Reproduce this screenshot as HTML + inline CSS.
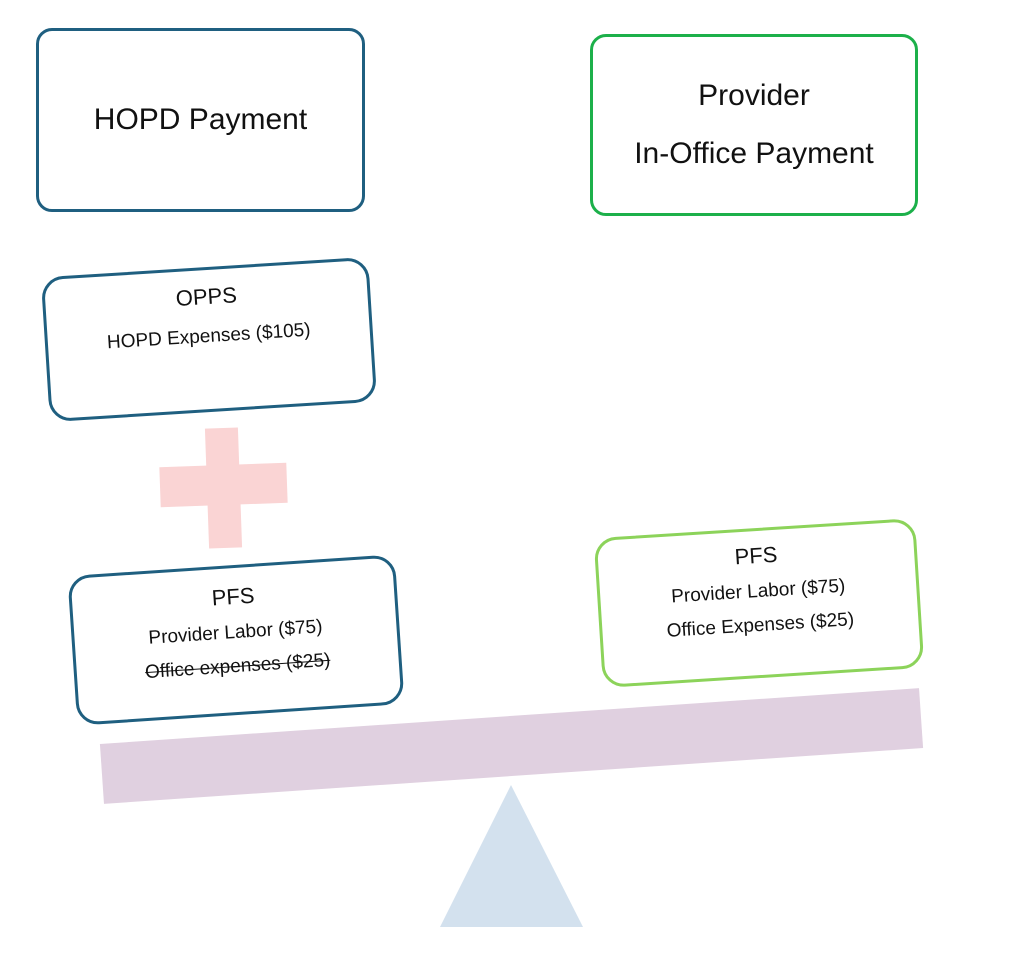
<!DOCTYPE html>
<html><head><style>
html,body{margin:0;padding:0;background:#fff;}
body{width:1024px;height:958px;position:relative;overflow:hidden;font-family:"Liberation Sans",sans-serif;color:#111;}
.b{position:absolute;box-sizing:border-box;background:#fff;text-align:center;}
</style></head><body>
<div class="b" style="left:36px;top:28px;width:329px;height:184px;border:3px solid #1f5f80;border-radius:16px;font-size:30px;line-height:178px;">HOPD Payment</div>
<div class="b" style="left:590px;top:34px;width:328px;height:182px;border:3px solid #1cb04a;border-radius:16px;font-size:30px;line-height:58px;padding-top:30px;">Provider<br>In-Office Payment</div>

<div class="b" style="left:45px;top:267px;width:328px;height:145px;border:3px solid #1f5f80;border-radius:22px;transform:rotate(-3.6deg);font-size:22px;padding-top:8px;line-height:38px;">OPPS<br><span style="font-size:19px">HOPD Expenses ($105)</span></div>

<div style="position:absolute;left:207px;top:428px;width:33px;height:120px;background:#fad4d4;transform:rotate(-2deg)"></div>
<div style="position:absolute;left:160px;top:465px;width:127px;height:40px;background:#fad4d4;transform:rotate(-2deg)"></div>

<div class="b" style="left:72px;top:565px;width:328px;height:150px;border:3px solid #1f5f80;border-radius:22px;transform:rotate(-3.8deg);font-size:22px;padding-top:12px;line-height:34px;">PFS<br><span style="font-size:19px;line-height:31px">Provider Labor ($75)<br><s>Office expenses ($25)</s></span></div>

<div class="b" style="left:598px;top:528px;width:322px;height:150px;border:3px solid #8cd35a;border-radius:22px;transform:rotate(-3.6deg);font-size:22px;padding-top:8px;line-height:34px;">PFS<br><span style="font-size:19px;line-height:31px">Provider Labor ($75)<br>Office Expenses ($25)</span></div>

<div style="position:absolute;left:101px;top:716px;width:821px;height:60px;background:#e0d0e0;transform:rotate(-3.9deg)"></div>

<svg style="position:absolute;left:0;top:0" width="1024" height="958"><polygon points="511,785 440,927 583,927" fill="#d3e1ee"/></svg>
</body></html>
